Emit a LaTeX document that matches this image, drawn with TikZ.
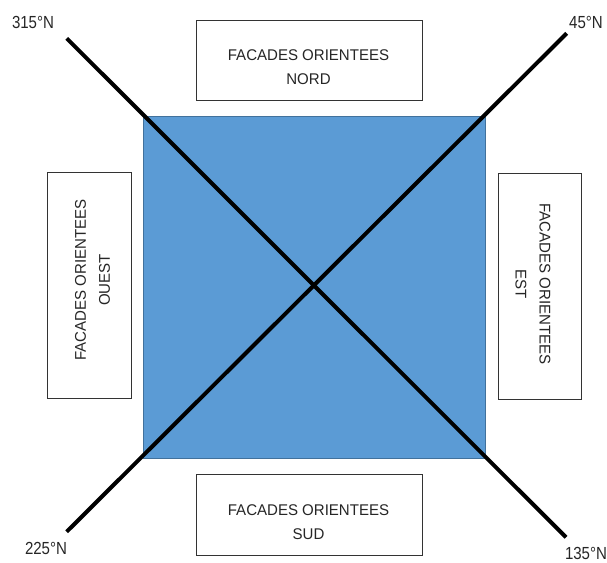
\documentclass[tikz,border=0pt]{standalone}
\usepackage{fontspec}
\setmainfont{Liberation Sans}
\newfontfamily\lblfont[FakeStretch=0.86]{Liberation Sans}
\newfontfamily\boxfont[FakeStretch=0.97]{Liberation Sans}
\definecolor{sqfill}{HTML}{5B9BD5}
\definecolor{sqdraw}{HTML}{41719C}
\definecolor{txtgray}{HTML}{262626}
\begin{document}
\begin{tikzpicture}[x=1pt,y=-1pt,
  facbox/.style={draw=black!80,line width=0.9pt,fill=white,inner sep=0pt},
  factext/.style={align=center,inner sep=0pt,text=txtgray,font=\boxfont\fontsize{15.5}{24}\selectfont},
  anglbl/.style={inner sep=0pt,text=txtgray,font=\lblfont\fontsize{17.5}{20}\selectfont},
  axisline/.style={line width=4pt,black}]
\useasboundingbox (0,0) rectangle (607,562);
% central square
\node[draw=sqdraw,fill=sqfill,line width=1pt,minimum width=341.7pt,minimum height=341.6pt,inner sep=0pt] (sq) at (314.15,287.5) {};
% axis end points
\coordinate (nw) at (66.7,38.3);
\coordinate (se) at (566,537.3);
\coordinate (sw) at (66.7,531.7);
\coordinate (ne) at (566.7,33.3);
\draw[axisline] (nw) -- (se);
\draw[axisline] (sw) -- (ne);
% facade boxes
\node[facbox,minimum width=226.3pt,minimum height=80pt] (nbox) at (309.2,60.7) {};
\node[facbox,minimum width=226.3pt,minimum height=80.7pt] (sbox) at (309.2,514.7) {};
\node[facbox,minimum width=83.3pt,minimum height=226pt] (wbox) at (89.4,285.3) {};
\node[facbox,minimum width=83.4pt,minimum height=226pt] (ebox) at (540,286.3) {};
% facade texts
\node[factext] (ntxt) at (308.5,67) {FACADES ORIENTEES\\NORD};
\node[factext] (stxt) at (308.5,522) {FACADES ORIENTEES\\SUD};
\node[factext,rotate=90] (wtxt) at (92.5,280) {FACADES ORIENTEES\\OUEST};
\node[factext,rotate=-90] (etxt) at (533,284) {FACADES ORIENTEES\\EST};
% angle labels
\node[anglbl] (l315) at (33,22) {315°N};
\node[anglbl] (l45) at (586,22) {45°N};
\node[anglbl] (l225) at (46,548) {225°N};
\node[anglbl] (l135) at (586,553) {135°N};
\end{tikzpicture}
\end{document}
